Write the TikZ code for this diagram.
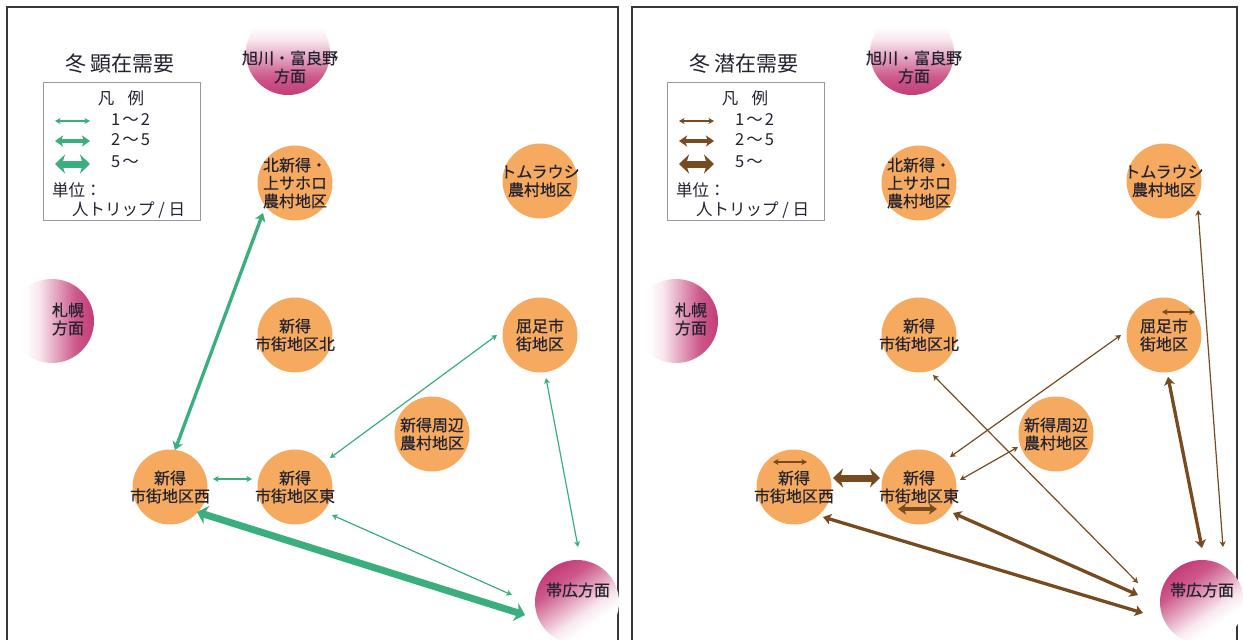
\documentclass[tikz,border=0pt]{standalone}
\usepackage{fontspec}
\setmainfont{Noto Sans CJK JP}
\newfontfamily\lblf{Noto Sans CJK JP}[FakeBold=0.5]
\usetikzlibrary{arrows.meta}
\definecolor{orangeF}{RGB}{246,170,96}
\definecolor{pinkD}{RGB}{196,60,118}
\definecolor{greenA}{RGB}{58,174,124}
\definecolor{brownA}{RGB}{120,74,32}
\definecolor{txt}{RGB}{34,34,48}
\definecolor{frameC}{RGB}{55,55,55}
\pgfdeclareverticalshading{pinkfade}{100bp}{color(0bp)=(pinkD); color(25bp)=(pinkD); color(36bp)=(pinkD!85); color(48bp)=(pinkD!45); color(58bp)=(pinkD!12); color(66bp)=(white); color(100bp)=(white)}
\begin{document}
\begin{tikzpicture}[x=1pt,y=-1pt,
  zone/.style={circle,fill=orangeF,minimum size=75pt,inner sep=0pt,outer sep=0pt},
  dirc/.style={circle,minimum size=84pt,inner sep=0pt,outer sep=0pt,shading=pinkfade},
  lbl/.style={text=txt,font=\lblf\fontsize{16}{18}\selectfont,align=center,inner sep=0pt},
  ttl/.style={text=txt,font=\fontsize{21}{24}\selectfont,inner sep=0pt},
  legt/.style={text=txt,font=\fontsize{16.5}{19}\selectfont,inner sep=0pt},
  legbox/.style={draw=black!40,line width=0.8pt,minimum width=157pt,minimum height=138pt,inner sep=0pt},
  frm/.style={draw=frameC,line width=1.4pt},
  tipS/.tip={Stealth[length=5.5pt,width=6pt,inset=1.5pt]},
  tipM/.tip={Stealth[length=8pt,width=11pt,inset=2pt]},
  tipL/.tip={Stealth[length=10pt,width=19pt,inset=3pt]},
  thinG/.style={draw=greenA,line width=1.2pt,{tipS}-{tipS}},
  midG/.style={draw=greenA,line width=3.3pt,{tipM}-{tipM}},
  thickG/.style={draw=greenA,line width=7pt,{tipL}-{tipL}},
  thinB/.style={draw=brownA,line width=1.2pt,{tipS}-{tipS}},
  midB/.style={draw=brownA,line width=3.3pt,{tipM}-{tipM}},
  thickB/.style={draw=brownA,line width=7pt,{tipL}-{tipL}}
]
\useasboundingbox (0,0) rectangle (1243,640);
\fill[white] (0,0) rectangle (1243,640);
\draw[frm] (7,660) -- (7,7) -- (618,7) -- (618,660);
\draw[frm] (632,660) -- (632,7) -- (1237,7) -- (1237,660);

% ================= LEFT PANEL =================
\node[ttl] (t1) at (120,64) {冬 顕在需要};
\node[legbox] (leg1) at (121.5,151) {};
\node[legt] (lh1) at (121,98) {凡\hspace{0.8em}例};
\coordinate (g1a) at (55,121); \coordinate (g1b) at (90,121);
\coordinate (g2a) at (55,141); \coordinate (g2b) at (90,141);
\coordinate (g3a) at (55,164); \coordinate (g3b) at (90,164);
\draw[thinG] (g1a) -- (g1b);
\draw[midG] (g2a) -- (g2b);
\draw[thickG] (g3a) -- (g3b);
\node[legt,anchor=west] (r11) at (111,120) {1\hspace{2pt}～\hspace{2pt}2};
\node[legt,anchor=west] (r12) at (111,140) {2\hspace{2pt}～\hspace{2pt}5};
\node[legt,anchor=west] (r13) at (111,162) {5\hspace{2pt}～};
\node[legt,anchor=west] (u11) at (52,190) {単位：};
\node[legt,anchor=west] (u12) at (72,210) {人トリップ / 日};

\node[dirc] (asa1) at (288,53) {};
\node[dirc,shading angle=90] (sap1) at (52,321) {};
\node[dirc,shading angle=215] (obi1) at (577,602) {};

\node[zone] (kita1) at (295,183) {};
\node[zone] (north1) at (295,335) {};
\node[zone] (kut1) at (540,335) {};
\node[zone] (tom1) at (540,181) {};
\node[zone] (shu1) at (432,434) {};
\node[zone] (west1) at (170,487) {};
\node[zone] (east1) at (295,487) {};

\draw[midG] ([shift={(-32,30)}]kita1.center) -- ([shift={(5,-37)}]west1.center);
\draw[thinG] ([shift={(43,-8)}]west1.center) -- ([shift={(-43,-8)}]east1.center);
\draw[thinG] ([shift={(35,-29)}]east1.center) -- ([shift={(-43,0)}]kut1.center);
\draw[thinG] ([shift={(37,28)}]east1.center) -- ([shift={(-65,-7)}]obi1.center);
\draw[thinG] ([shift={(6,43)}]kut1.center) -- ([shift={(1,-55)}]obi1.center);
\draw[thickG] ([shift={(27,25)}]west1.center) -- ([shift={(-52,13)}]obi1.center);

\node[lbl] (asa1t) at (290,67) {旭川・富良野\\方面};
\node[lbl] (sap1t) at (68,319) {札幌\\方面};
\node[lbl] (obi1t) at (578,590) {帯広方面};
\node[lbl] (kita1t) at (kita1) {北新得・\\上サホロ\\農村地区};
\node[lbl] (north1t) at (north1) {新得\\市街地区北};
\node[lbl] (kut1t) at (kut1) {屈足市\\街地区};
\node[lbl] (tom1t) at (tom1) {トムラウシ\\農村地区};
\node[lbl] (shu1t) at (shu1) {新得周辺\\農村地区};
\node[lbl] (west1t) at (west1) {新得\\市街地区西};
\node[lbl] (east1t) at (east1) {新得\\市街地区東};

% ================= RIGHT PANEL =================
\begin{scope}[xshift=624pt]
\node[ttl] (t2) at (120,64) {冬 潜在需要};
\node[legbox] (leg2) at (121.5,151) {};
\node[legt] (lh2) at (121,98) {凡\hspace{0.8em}例};
\coordinate (h1a) at (55,121); \coordinate (h1b) at (90,121);
\coordinate (h2a) at (55,141); \coordinate (h2b) at (90,141);
\coordinate (h3a) at (55,164); \coordinate (h3b) at (90,164);
\draw[thinB] (h1a) -- (h1b);
\draw[midB] (h2a) -- (h2b);
\draw[thickB] (h3a) -- (h3b);
\node[legt,anchor=west] (r21) at (111,120) {1\hspace{2pt}～\hspace{2pt}2};
\node[legt,anchor=west] (r22) at (111,140) {2\hspace{2pt}～\hspace{2pt}5};
\node[legt,anchor=west] (r23) at (111,162) {5\hspace{2pt}～};
\node[legt,anchor=west] (u21) at (52,190) {単位：};
\node[legt,anchor=west] (u22) at (72,210) {人トリップ / 日};

\node[dirc] (asa2) at (288,53) {};
\node[dirc,shading angle=90] (sap2) at (52,321) {};
\node[dirc,shading angle=215] (obi2) at (578,602) {};

\node[zone] (kita2) at (295,183) {};
\node[zone] (north2) at (295,335) {};
\node[zone] (kut2) at (540,335) {};
\node[zone] (tom2) at (540,181) {};
\node[zone] (shu2) at (432,434) {};
\node[zone] (west2) at (170,487) {};
\node[zone] (east2) at (295,487) {};

\draw[thinB] ([shift={(-21,-25)}]west2.center) -- ([shift={(13,-25)}]west2.center);
\draw[midB] ([shift={(-21,22)}]east2.center) -- ([shift={(18,22)}]east2.center);
\draw[thinB] ([shift={(-2,-23)}]kut2.center) -- ([shift={(31,-23)}]kut2.center);
\draw[thickB] ([shift={(39,-9)}]west2.center) -- ([shift={(-39,-9)}]east2.center);
\draw[thinB] ([shift={(14,40)}]north2.center) -- ([shift={(-64,-19)}]obi2.center);
\draw[thinB] ([shift={(31,-30)}]east2.center) -- ([shift={(-43,0)}]kut2.center);
\draw[thinB] ([shift={(41,-7)}]east2.center) -- ([shift={(-38,13)}]shu2.center);
\draw[midB] ([shift={(34,26)}]east2.center) -- ([shift={(-64,-7)}]obi2.center);
\draw[midB] ([shift={(29,30)}]west2.center) -- ([shift={(-59,11)}]obi2.center);
\draw[midB] ([shift={(4,42)}]kut2.center) -- ([shift={(0,-54)}]obi2.center);
\draw[thinB] ([shift={(34,29)}]tom2.center) -- ([shift={(21,-55)}]obi2.center);

\node[lbl] (asa2t) at (290,67) {旭川・富良野\\方面};
\node[lbl] (sap2t) at (67,319) {札幌\\方面};
\node[lbl] (obi2t) at (578,590) {帯広方面};
\node[lbl] (kita2t) at (kita2) {北新得・\\上サホロ\\農村地区};
\node[lbl] (north2t) at (north2) {新得\\市街地区北};
\node[lbl] (kut2t) at (kut2) {屈足市\\街地区};
\node[lbl] (tom2t) at (tom2) {トムラウシ\\農村地区};
\node[lbl] (shu2t) at (shu2) {新得周辺\\農村地区};
\node[lbl] (west2t) at (west2) {新得\\市街地区西};
\node[lbl] (east2t) at (east2) {新得\\市街地区東};
\end{scope}
\end{tikzpicture}
\end{document}
